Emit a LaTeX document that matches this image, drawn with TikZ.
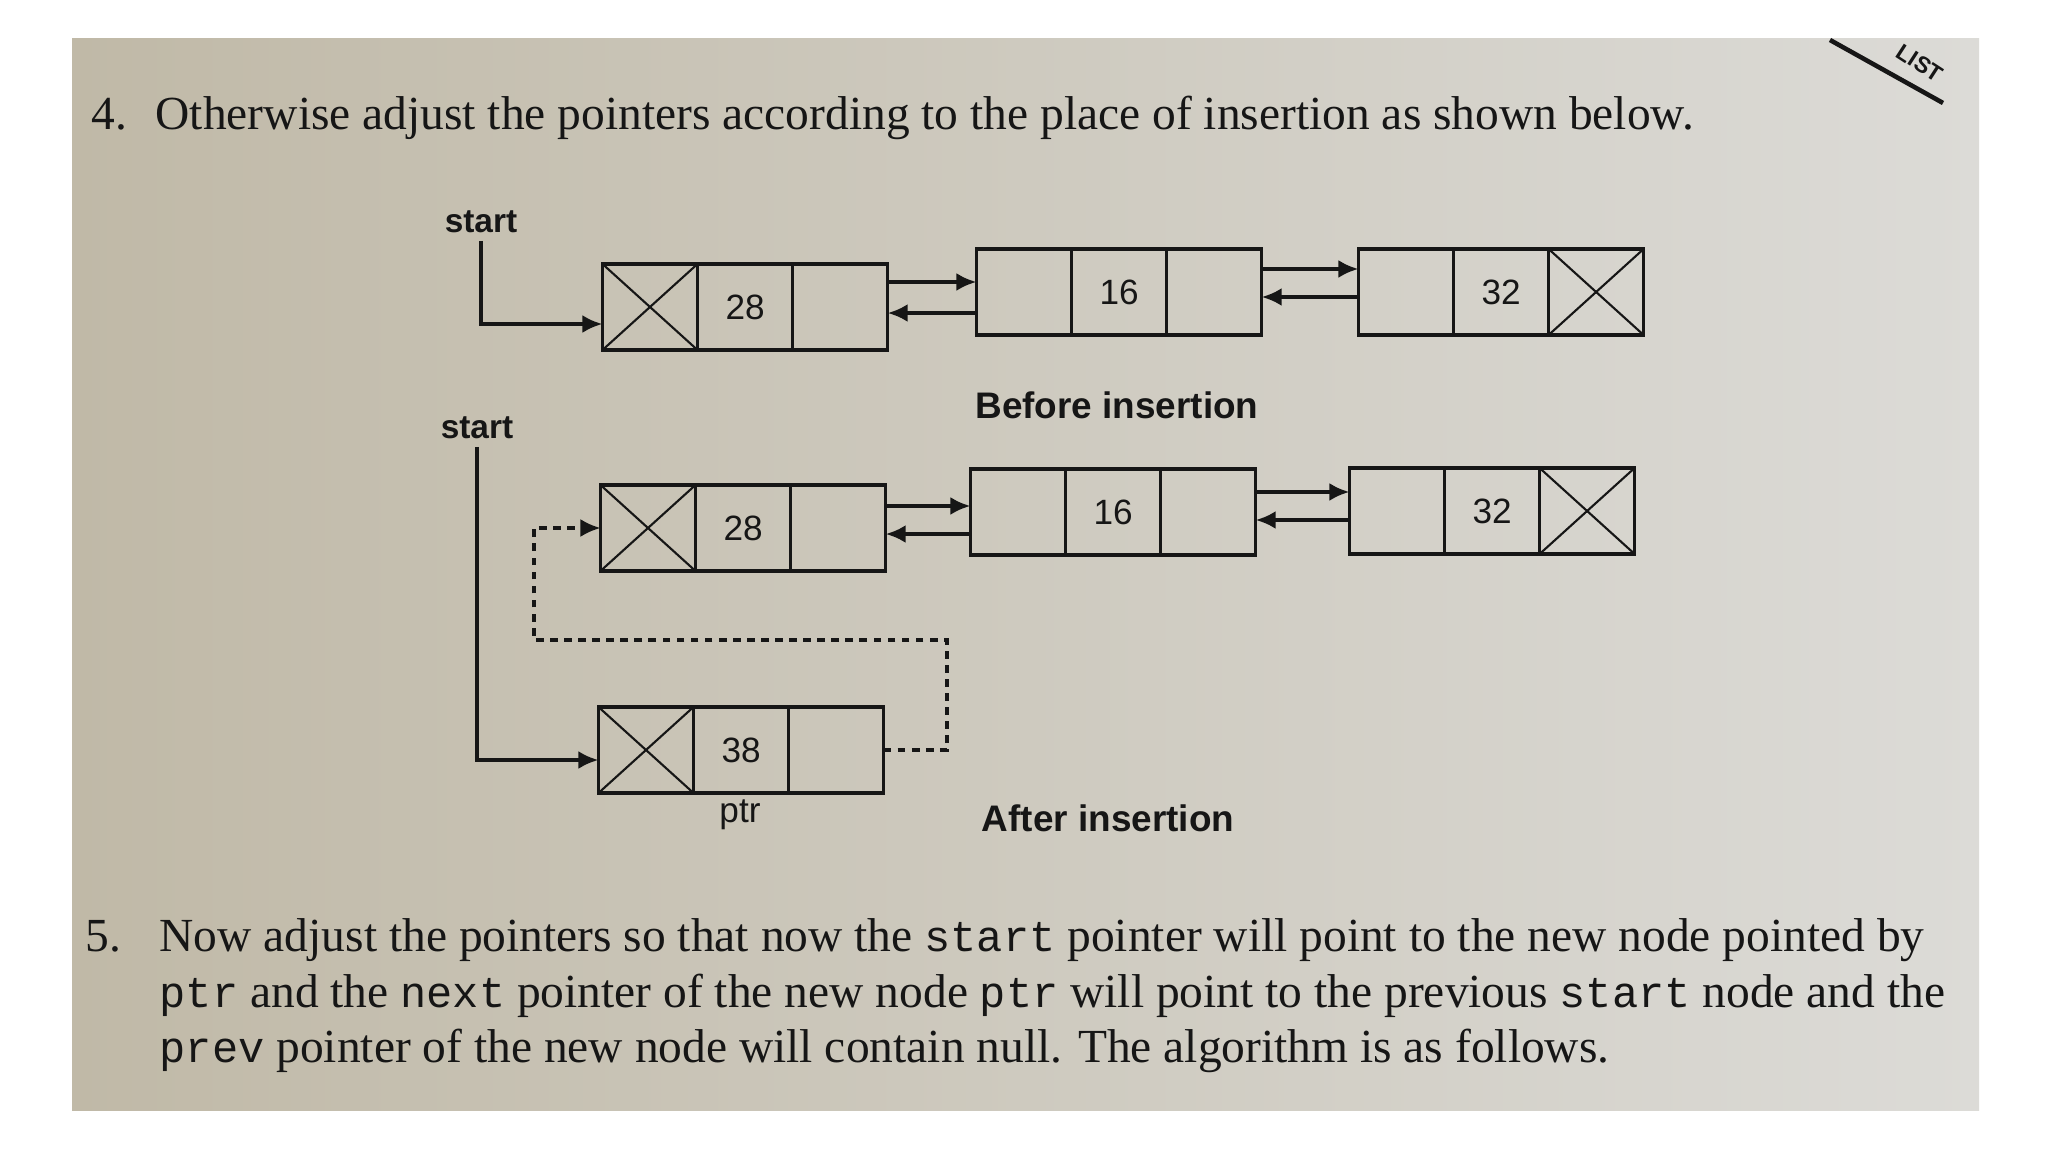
\documentclass[tikz,border=0pt]{standalone}
\usepackage{fontspec}
\setmainfont{Liberation Serif}
\setsansfont{Liberation Sans}
\setmonofont{Liberation Mono}[Scale=0.92]
\usepackage{tikz}
\usetikzlibrary{arrows.meta, positioning, calc}
\definecolor{ink}{HTML}{161616}
\definecolor{pageL}{HTML}{C0B9A7}
\definecolor{pageM}{HTML}{E6E6E3}
\definecolor{pageR}{HTML}{DCDBD7}

\begin{document}
\begin{tikzpicture}[x=0.01cm, y=-0.01cm,
  cell/.style={draw=ink, line width=0.9pt, minimum width=0.95cm, minimum height=0.86cm,
               inner sep=0pt, outer sep=0pt, text=ink,
               font=\sffamily\fontsize{10}{12}\selectfont},
  nil/.style={cell, path picture={\draw[ink, line width=0.6pt]
               (path picture bounding box.north west) -- (path picture bounding box.south east)
               (path picture bounding box.south west) -- (path picture bounding box.north east);}},
  arr/.style={-{Latex[length=2mm, width=1.8mm]}, draw=ink, line width=1.1pt},
  darr/.style={arr, line width=0.9pt, dash pattern=on 2.2pt off 1.8pt},
  lbl/.style={text=ink, inner sep=2pt, font=\sffamily\bfseries\fontsize{9.5}{11}\selectfont},
  capt/.style={text=ink, font=\sffamily\bfseries\fontsize{10.5}{12}\selectfont},
  para/.style={text=ink, inner sep=0pt, align=left, font=\fontsize{13.5}{15.8}\selectfont}
]
\useasboundingbox (0,0) rectangle (2048,1152);
\fill[white] (0,0) rectangle (2048,1152);
\shade[left color=pageL, middle color=pageM, right color=pageR] (72,39) rectangle (1979,1110);

% corner tab
\draw[ink, line width=1.3pt] (1830,40) -- (1943,103);
\node[rotate=-33, text=ink, inner sep=0pt, font=\sffamily\bfseries\fontsize{6.5}{7}\selectfont] (tab) at (1920,63) {LIST};

% step 4 text
\node[para, anchor=base west] (t4) at (91,130)
  {\makebox[0.64cm][l]{4.}Otherwise adjust the pointers according to the place of insertion as shown below.};

% before insertion
\node[lbl] (st1) at (481,222) {start};
\node[nil] (a1p) at (650,307) {};
\node[cell, right=0pt of a1p] (a1d) {28};
\node[cell, right=0pt of a1d] (a1n) {};
\node[cell] (b1p) at (1024,292) {};
\node[cell, right=0pt of b1p] (b1d) {16};
\node[cell, right=0pt of b1d] (b1n) {};
\node[cell] (c1p) at (1406,292) {};
\node[cell, right=0pt of c1p] (c1d) {32};
\node[nil, right=0pt of c1d] (c1n) {};
\draw[arr] (st1.south) |- ([yshift=-.17cm]a1p.west);
\node[capt] (bef) at (1117,405) {Before insertion};

% after insertion
\node[lbl] (st2) at (477,428) {start};
\node[nil] (a2p) at (648,528) {};
\node[cell, right=0pt of a2p] (a2d) {28};
\node[cell, right=0pt of a2d] (a2n) {};
\node[cell] (b2p) at (1018,512) {};
\node[cell, right=0pt of b2p] (b2d) {16};
\node[cell, right=0pt of b2d] (b2n) {};
\node[cell] (c2p) at (1397,511) {};
\node[cell, right=0pt of c2p] (c2d) {32};
\node[nil, right=0pt of c2d] (c2n) {};

\node[nil] (np) at (646,750) {};
\node[cell, right=0pt of np] (nd) {38};
\node[cell, right=0pt of nd] (nn) {};
\node[text=ink, font=\sffamily\fontsize{10}{12}\selectfont] (ptr) at (740,815) {ptr};
\draw[arr] (st2.south) |- ([yshift=-.10cm]np.west);
\node[capt] (aft) at (1108,818) {After insertion};

% next / prev links
\foreach \l/\r/\f/\b in {a1n/b1p/.25cm/-.21cm, b1n/c1p/.23cm/-.05cm,
                         a2n/b2p/.22cm/-.22cm, b2n/c2p/.20cm/-.09cm} {
  \draw[arr] ([yshift=\f]\l.east) -- ([yshift=\f]\l.east -| \r.west);
  \draw[arr] ([yshift=\b]\r.west) -- ([yshift=\b]\r.west -| \l.east);
}

% new next link (dashed)
\coordinate (dr) at (947,640);
\coordinate (dl) at (534,640);
\draw[darr] (nn.east) -| (dr) -- (dl) |- (a2p.west);

% step 5 text
\node[para, anchor=north west] (t5) at (85,918)
  {\makebox[0.74cm][l]{5.}Now adjust the pointers so that now the \texttt{start} pointer will point to the new node pointed by\\
   \hspace*{0.74cm}\texttt{ptr} and the \texttt{next} pointer of the new node \texttt{ptr} will point to the previous \texttt{start} node and the\\
   \hspace*{0.74cm}\texttt{prev} pointer of the new node will contain null. The algorithm is as follows.};
\end{tikzpicture}
\end{document}
